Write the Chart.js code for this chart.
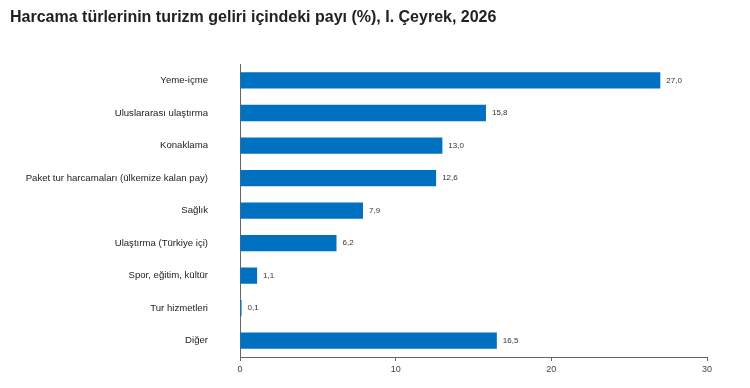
<!DOCTYPE html>
<html>
<head>
<meta charset="utf-8">
<script src="https://cdn.jsdelivr.net/npm/chart.js@4.4.1/dist/chart.umd.min.js"></script>
<style>
  html, body { margin: 0; padding: 0; background: #fff; }
  #wrap { width: 750px; height: 388px; position: relative; }
</style>
</head>
<body>
<div id="wrap"><canvas id="myChart"></canvas></div>
<script>
// Harcama türleri ve payları (%)
var kategoriler = [
    "Yeme-içme",
    "Uluslararası ulaştırma",
    "Konaklama",
    "Paket tur harcamaları (ülkemize kalan pay)",
    "Sağlık",
    "Ulaştırma (Türkiye içi)",
    "Spor, eğitim, kültür",
    "Tur hizmetleri",
    "Diğer"
];
var paylar = [27.0, 15.8, 13.0, 12.6, 7.9, 6.2, 1.1, 0.1, 16.5];
var xTicks = [0, 10, 20, 30];

var baslik = "Harcama türlerinin turizm geliri içindeki payı (%), I. Çeyrek, 2026";

// Değer etiketleri (çubuğun sonuna)
var degerEtiketi = {
    id: 'degerEtiketi',
    afterDatasetsDraw: function(chart) {
        var ctx = chart.ctx;
        var meta = chart.getDatasetMeta(0);
        ctx.save();
        ctx.font = '8px "Liberation Sans", Arial, sans-serif';
        ctx.fillStyle = '#333';
        ctx.textBaseline = 'middle';
        meta.data.forEach(function(bar, i) {
            var txt = paylar[i].toFixed(1).replace('.', ',');
            ctx.fillText(txt, bar.x + 6, bar.y);
        });
        ctx.restore();
    }
};

const ctx = document.getElementById("myChart").getContext("2d");

new Chart(ctx, {
    type: 'bar',
    data: {
        labels: kategoriler,
        datasets: [{
            data: paylar,
            backgroundColor: '#0070C0',
            borderWidth: 0,
            barPercentage: 0.5,
            categoryPercentage: 1
        }]
    },
    options: {
        indexAxis: 'y',
        responsive: true,
        maintainAspectRatio: false,
        animation: false,
        layout: { padding: { left: 10, right: 43, top: 0, bottom: 0 } },
        plugins: {
            legend: { display: false },
            tooltip: { enabled: false },
            title: {
                display: true,
                text: baslik,
                align: 'start',
                color: '#222',
                font: { family: '"Liberation Sans", Arial, sans-serif', size: 16, weight: 'bold', lineHeight: 1.2 },
                padding: { top: 8, bottom: 37 }
            }
        },
        scales: {
            x: {
                min: 0,
                max: 30,
                afterBuildTicks: function(scale) {
                    scale.ticks = xTicks.map(function(v) { return { value: v }; });
                },
                afterFit: function(scale) { scale.height = 31; },
                grid: { display: true, drawOnChartArea: false, drawTicks: true, tickLength: 4, color: '#666' },
                border: { display: true, color: '#666', width: 1 },
                ticks: {
                    padding: 3,
                    color: '#444',
                    font: { family: '"Liberation Sans", Arial, sans-serif', size: 9 }
                }
            },
            y: {
                afterFit: function(scale) {
                    scale.width = 230;
                    // tick padding'in üst/alt boşluğa eklenmesini engelle
                    scale.paddingTop = 0;
                    scale.paddingBottom = 0;
                },
                grid: { display: false, drawTicks: false },
                border: { display: true, color: '#666', width: 1 },
                ticks: {
                    padding: 32,
                    color: '#222',
                    font: { family: '"Liberation Sans", Arial, sans-serif', size: 9.6 }
                }
            }
        }
    },
    plugins: [degerEtiketi]
});
</script>
</body>
</html>
